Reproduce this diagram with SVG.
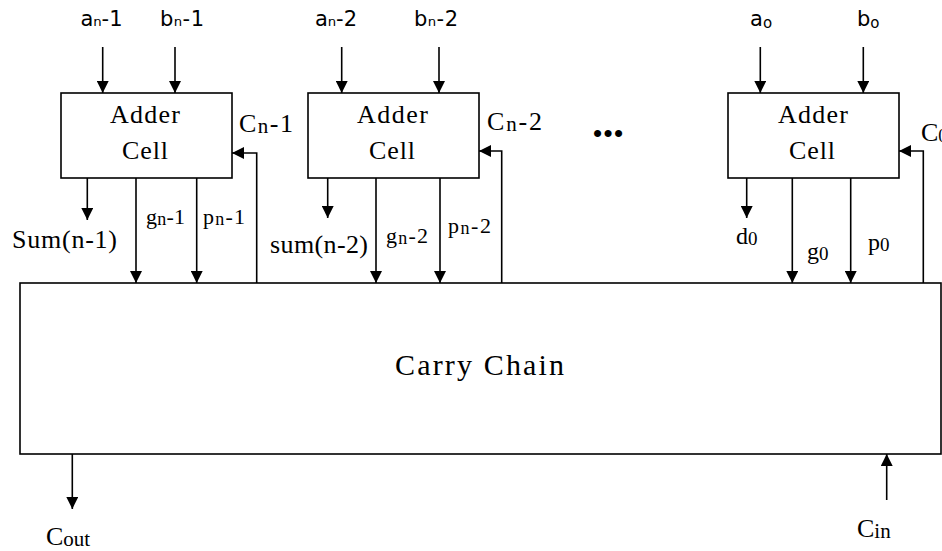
<svg xmlns="http://www.w3.org/2000/svg" width="942" height="551" viewBox="0 0 942 551">
<defs>
<marker id="ah" markerUnits="userSpaceOnUse" markerWidth="12" markerHeight="12" refX="12" refY="6" orient="auto">
<path d="M0,0 L12,6 L0,12 z" fill="#000"/>
</marker>
<style>
.box{fill:#fff;stroke:#000;stroke-width:1.6}
.ln{fill:none;stroke:#000;stroke-width:1.6;marker-end:url(#ah)}
.sans{font-family:"DejaVu Sans","Liberation Sans",sans-serif;font-size:21px;fill:#000}
.ser{font-family:"Liberation Serif","Times New Roman",serif;fill:#000}
.cell{font-size:26px;text-anchor:middle}
.big{font-size:26px}
.med{font-size:22px}
.sub{font-size:18px}
.zero{font-size:24px}
</style>
</defs>
<rect width="942" height="551" fill="#fff"/>

<g id="carry-chain">
<rect class="box" x="20" y="283" width="921" height="171"/>
<text class="ser" x="479.5" y="375" font-size="30" text-anchor="middle" textLength="169">Carry Chain</text>
</g>

<g id="cell1">
<rect class="box" x="61" y="93" width="171" height="85"/>
<text class="ser cell" x="145" y="123" textLength="70">Adder</text>
<text class="ser cell" x="145" y="159" textLength="46">Cell</text>
</g>

<g id="cell2">
<rect class="box" x="308" y="93" width="171" height="85"/>
<text class="ser cell" x="392.5" y="123" textLength="71">Adder</text>
<text class="ser cell" x="392" y="159" textLength="46">Cell</text>
</g>

<g id="cell3">
<rect class="box" x="728" y="93" width="171" height="85"/>
<text class="ser cell" x="813" y="123" textLength="70">Adder</text>
<text class="ser cell" x="812" y="159" textLength="46">Cell</text>
</g>

<g id="connectors">
<path class="ln" d="M102.7,47 V93"/>
<path class="ln" d="M175,47 V93"/>
<path class="ln" d="M341.7,47 V93"/>
<path class="ln" d="M439,47 V93"/>
<path class="ln" d="M760.3,47 V93"/>
<path class="ln" d="M863.3,47 V93"/>
<path class="ln" d="M87.3,178 V220"/>
<path class="ln" d="M327.7,178 V218"/>
<path class="ln" d="M746.7,178 V218"/>
<path class="ln" d="M136,178 V283"/>
<path class="ln" d="M196.7,178 V283"/>
<path class="ln" d="M376,178 V283"/>
<path class="ln" d="M440,178 V283"/>
<path class="ln" d="M792.3,178 V283"/>
<path class="ln" d="M850.7,178 V283"/>
<path class="ln" d="M256.7,283 V153 H232"/>
<path class="ln" d="M501.7,283 V151 H479"/>
<path class="ln" d="M923.3,283 V151 H899"/>
<path class="ln" d="M72.3,454 V509"/>
<path class="ln" d="M886.7,500 V454"/>
</g>

<g id="labels">
<text class="sans" x="101.5" y="26" text-anchor="middle" textLength="42">aₙ-1</text>
<text class="sans" x="182" y="26" text-anchor="middle" textLength="44">bₙ-1</text>
<text class="sans" x="336" y="26" text-anchor="middle" textLength="42">aₙ-2</text>
<text class="sans" x="436" y="26" text-anchor="middle" textLength="44">bₙ-2</text>
<text class="sans" x="750" y="26" font-size="19">a<tspan font-size="15" dy="2">o</tspan></text>
<text class="sans" x="857" y="26" font-size="19">b<tspan font-size="15" dy="2">o</tspan></text>

<text class="ser big" x="239" y="132" textLength="54">C<tspan font-size="21" dy="1">n</tspan><tspan dy="-1">-1</tspan></text>
<text class="ser big" x="487" y="130" textLength="55">C<tspan font-size="21" dy="1">n</tspan><tspan dy="-1">-2</tspan></text>
<text class="ser big" x="921" y="141">C<tspan font-size="18" dy="1">0</tspan></text>

<text class="ser big" x="12" y="248" font-size="27" textLength="105">Sum(n-1)</text>
<text class="ser med" x="146" y="224" textLength="39">g<tspan class="sub" dy="1">n</tspan><tspan dy="-1">-1</tspan></text>
<text class="ser med" x="203" y="224" textLength="42">p<tspan class="sub" dy="1">n</tspan><tspan dy="-1">-1</tspan></text>

<text class="ser big" x="270" y="253" textLength="98">sum(n-2)</text>
<text class="ser med" x="386" y="243" textLength="42">g<tspan class="sub" dy="1">n</tspan><tspan dy="-1">-2</tspan></text>
<text class="ser med" x="448" y="233" textLength="43">p<tspan class="sub" dy="1">n</tspan><tspan dy="-1">-2</tspan></text>

<text class="ser zero" x="736" y="244">d<tspan font-size="19" dy="1">0</tspan></text>
<text class="ser zero" x="807" y="259">g<tspan font-size="19" dy="1">0</tspan></text>
<text class="ser zero" x="868" y="250">p<tspan font-size="19" dy="1">0</tspan></text>

<text x="608" y="142" font-family="Liberation Sans, sans-serif" font-size="26" text-anchor="middle" textLength="30">•••</text>

<text class="ser big" x="46" y="545">C<tspan font-size="21" dy="1">out</tspan></text>
<text class="ser big" x="857" y="537">C<tspan font-size="21" dy="1">in</tspan></text>
</g>
</svg>
